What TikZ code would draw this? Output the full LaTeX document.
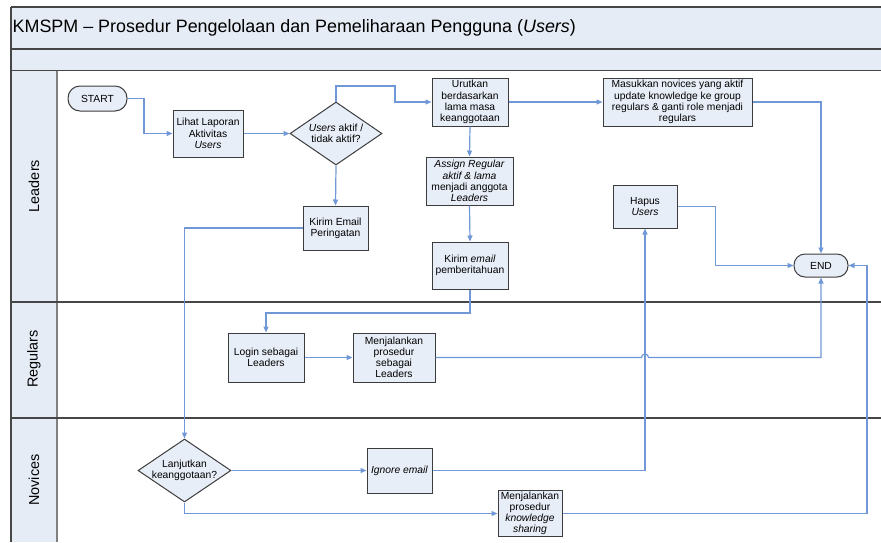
\documentclass[tikz,border=0pt]{standalone}
\usepackage{fontspec}
\setmainfont{Liberation Sans}
\usetikzlibrary{shapes.geometric,arrows.meta,calc}
\definecolor{bandfill}{RGB}{229,236,246}
\definecolor{boxfill}{RGB}{232,238,248}
\definecolor{flow}{RGB}{112,152,214}
\definecolor{edgegrey}{RGB}{60,60,60}
\definecolor{sepgrey}{RGB}{70,70,70}
\newcommand{\nodefont}{\fontsize{10.3}{11.2}\selectfont}
\begin{document}
\begin{tikzpicture}[x=1pt,y=-1pt,
  proc/.style={rectangle, draw=edgegrey, line width=1pt, fill=boxfill,
    align=center, inner sep=1pt, font=\nodefont},
  term/.style={proc, rounded corners=11pt},
  decision/.style={diamond, draw=edgegrey, line width=1pt, fill=boxfill,
    inner sep=0pt},
  dlabel/.style={font=\nodefont, align=center},
  flowline/.style={draw=flow, line width=1.2pt},
  arrow/.style={flowline, -{Triangle[length=6pt,width=5pt]}},
  lanetext/.style={font=\fontsize{14.4}{16}\selectfont, rotate=90}]

\useasboundingbox (0,0) rectangle (881,542);

% header bands and lane column
\fill[bandfill] (11,7) rectangle (881,70.5);
\fill[bandfill] (11,70.5) rectangle (57,542);
\draw[sepgrey, line width=1.5pt] (11,7) -- (881,7);
\draw[sepgrey, line width=1.5pt] (11,49) -- (881,49);
\draw[sepgrey, line width=1.8pt] (11,70.5) -- (881,70.5);
\draw[sepgrey, line width=1.5pt] (11,7) -- (11,542);
\draw[gray, line width=1.8pt] (57,70.5) -- (57,542);
\draw[sepgrey, line width=1.8pt] (11,302) -- (881,302);
\draw[sepgrey, line width=1.8pt] (11,418) -- (881,418);

\node[anchor=west, font=\fontsize{17.9}{20}\selectfont, inner sep=0pt] (title) at (12.5,28)
  {KMSPM -- Prosedur Pengelolaan dan Pemeliharaan Pengguna (\textit{Users})};

\node[lanetext] (laneL) at (34,186) {Leaders};
\node[lanetext] (laneR) at (34,359) {Regulars};
\node[lanetext] (laneN) at (34,480) {Novices};

% Leaders lane
\node[term, minimum width=59pt, minimum height=25pt, rounded corners=12pt] (start) at (97.5,98.5) {START};
\node[proc, minimum width=70pt, minimum height=47pt] (lihat) at (208,133.5)
  {Lihat Laporan\\Aktivitas\\\textit{Users}};
\node[decision, minimum width=92pt, minimum height=63pt,
  label={[dlabel]center:\textit{Users} aktif /\\tidak aktif?}] (dec1) at (336,133.5) {};
\node[proc, minimum width=76pt, minimum height=48pt] (urut) at (470,102)
  {Urutkan\\berdasarkan\\lama masa\\keanggotaan};
\node[proc, minimum width=149pt, minimum height=48pt] (masuk) at (677.5,102)
  {Masukkan novices yang aktif\\update knowledge ke group\\regulars \& ganti role menjadi\\regulars};
\node[proc, minimum width=87pt, minimum height=48pt] (assign) at (469.5,181)
  {\textit{Assign Regular}\\\textit{aktif \& lama}\\menjadi anggota\\\textit{Leaders}};
\node[proc, minimum width=76pt, minimum height=47pt] (kirimP) at (470,265.5)
  {Kirim \textit{email}\\pemberitahuan};
\node[proc, minimum width=65pt, minimum height=44pt] (kirimW) at (335.5,228)
  {Kirim Email\\Peringatan};
\node[proc, minimum width=64pt, minimum height=43pt] (hapus) at (645,206.5)
  {Hapus\\\textit{Users}};
\node[term, minimum width=54pt, minimum height=23pt] (end) at (821,265.5) {END};

% Regulars lane
\node[proc, minimum width=76pt, minimum height=49pt] (login) at (266,357.5)
  {Login sebagai\\Leaders};
\node[proc, minimum width=82pt, minimum height=49pt] (jalanL) at (394,357.5)
  {Menjalankan\\prosedur\\sebagai\\Leaders};

% Novices lane
\node[decision, minimum width=93pt, minimum height=63pt,
  label={[dlabel]center:Lanjutkan\\keanggotaan?}] (dec2) at (184.5,470.5) {};
\node[proc, minimum width=65pt, minimum height=45pt] (ignore) at (399.5,470.5)
  {\textit{Ignore email}};
\node[proc, minimum width=64pt, minimum height=43pt] (jalanK) at (530,513.5)
  {Menjalankan\\prosedur\\\textit{knowledge}\\\textit{sharing}};

% bend points
\coordinate (up1) at (395,86);
\coordinate (down1) at (0,313);
\coordinate (right1) at (867,0);

% connectors
\draw[arrow] (start.east) -- ++(16.5,0) |- (lihat.west);
\draw[arrow] (lihat.east) -- (dec1.west);
\draw[arrow] (dec1.north) |- (up1) |- (urut.west);
\draw[arrow] (urut.east) -- (masuk.west);
\draw[arrow] (urut.south) -- (assign.north);
\draw[arrow] (assign.south) -- (kirimP.north);
\draw[arrow] (masuk.east) -| (end.north);
\draw[arrow] (dec1.south) -- (kirimW.north);
\draw[arrow] (kirimW.west) -| (dec2.north);
\draw[arrow] (kirimP.south) -- (kirimP.south |- down1) -| (login.north);
\draw[arrow] (login.east) -- (jalanL.west);
\draw[arrow] (jalanL.east) -- ($(hapus.south |- jalanL.east)+(-3.5,0)$)
  arc[start angle=180, end angle=0, radius=3.5pt]
  -- (end.south |- jalanL.east) -- (end.south);
\draw[arrow] (dec2.east) -- (ignore.west);
\draw[arrow] (ignore.east) -| (hapus.south);
\draw[arrow] (hapus.east) -- ++(38,0) |- (end.west);
\draw[arrow] (dec2.south) |- (jalanK.west);
\draw[arrow] (jalanK.east) -| (right1 |- end.east) -- (end.east);

\end{tikzpicture}
\end{document}
